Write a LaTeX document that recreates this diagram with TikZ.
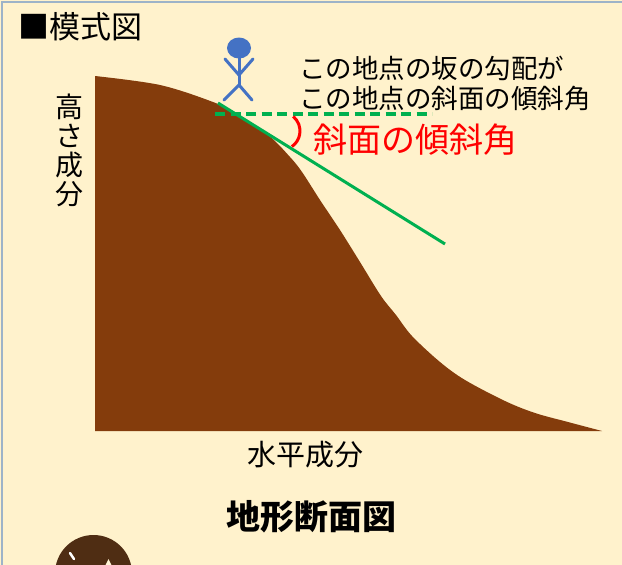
\documentclass[tikz,border=0pt]{standalone}
\usepackage{fontspec}
\setmainfont{Noto Sans CJK JP}
\definecolor{paper}{HTML}{FFF2CC}
\definecolor{soil}{HTML}{843C0C}
\definecolor{tangent}{HTML}{00B050}
\definecolor{walker}{HTML}{4472C4}
\definecolor{framecol}{HTML}{9DB3C8}
\definecolor{badge}{HTML}{4F2D13}
\begin{document}
\begin{tikzpicture}[x=1pt,y=-1pt,
  txt/.style={inner sep=0pt, text=black},
  figline/.style={walker, line width=3pt, line cap=round, line join=round},
  tangentline/.style={tangent, line width=3pt},
  levelline/.style={tangent, line width=3.2pt, dash pattern=on 10pt off 5.5pt},
  anglemark/.style={red, line width=3pt}]
\useasboundingbox (0,0) rectangle (622,565);
\fill[paper] (0,0) rectangle (622,565);
\draw[framecol, line width=1.6pt] (2,565) -- (2,2) -- (622,2);

% ground cross-section
\fill[soil] (95,431) -- (95,76)
  -- plot[smooth, tension=0.55] coordinates {(95,76) (160,85) (213,102) (232,112) (268,135)
      (290,157) (302,172) (320,200) (340,230) (360,262) (381,296) (396,315) (412,336)
      (440,362) (465,380) (505,401) (535,413) (568,422) (602,431)}
  -- cycle;

% slope at the standing point
\coordinate (tA) at (218,103);
\coordinate (tB) at (445,244);
\coordinate (hA) at (215,114);
\coordinate (hB) at (432,114);
\draw[tangentline] (tA) -- (tB);
\draw[levelline] (hA) -- (hB);
\coordinate (arcc) at (281,131);
\draw[anglemark] ([shift={(-50:19)}]arcc) arc[start angle=-50, end angle=55, radius=19];

% stick figure
\coordinate (neck) at (239,58);
\coordinate (hip) at (239,85);
\fill[walker] (239,48) ellipse[x radius=12, y radius=10.5];
\draw[figline] (neck) -- (hip);
\draw[figline] (225,59) -- (239,75) -- (253,59);
\draw[figline] (224,100) -- (hip) -- (252,100);

% labels
\node[txt, anchor=west, font=\fontsize{31}{31}\selectfont] (title) at (18,27) {■模式図};
\node[txt, anchor=west, font=\fontsize{26.5}{26.5}\selectfont] (note1) at (299,68) {この地点の坂の勾配が};
\node[txt, anchor=west, font=\fontsize{26.5}{26.5}\selectfont] (note2) at (299,98) {この地点の斜面の傾斜角};
\node[txt, anchor=west, text=red, font=\fontsize{34}{34}\selectfont] (anglelabel) at (313,140) {斜面の傾斜角};
\node[txt, align=center, font=\fontsize{28}{29}\selectfont] (ylabel) at (69,150) {高\\さ\\成\\分};
\node[txt, font=\fontsize{29}{29}\selectfont] (xlabel) at (305,455) {水平成分};
\node[txt, font=\bfseries\fontsize{34}{34}\selectfont] (caption) at (311,517) {地形断面図};

% round badge at the lower edge
\fill[badge] (93.5,573.5) circle[radius=38.5];
\draw[white, line width=2.5pt, line cap=round] (70,553) -- (74,559);
\fill[paper!80!white] (105,566) -- (108.5,559) -- (112,566) -- cycle;
\end{tikzpicture}
\end{document}
